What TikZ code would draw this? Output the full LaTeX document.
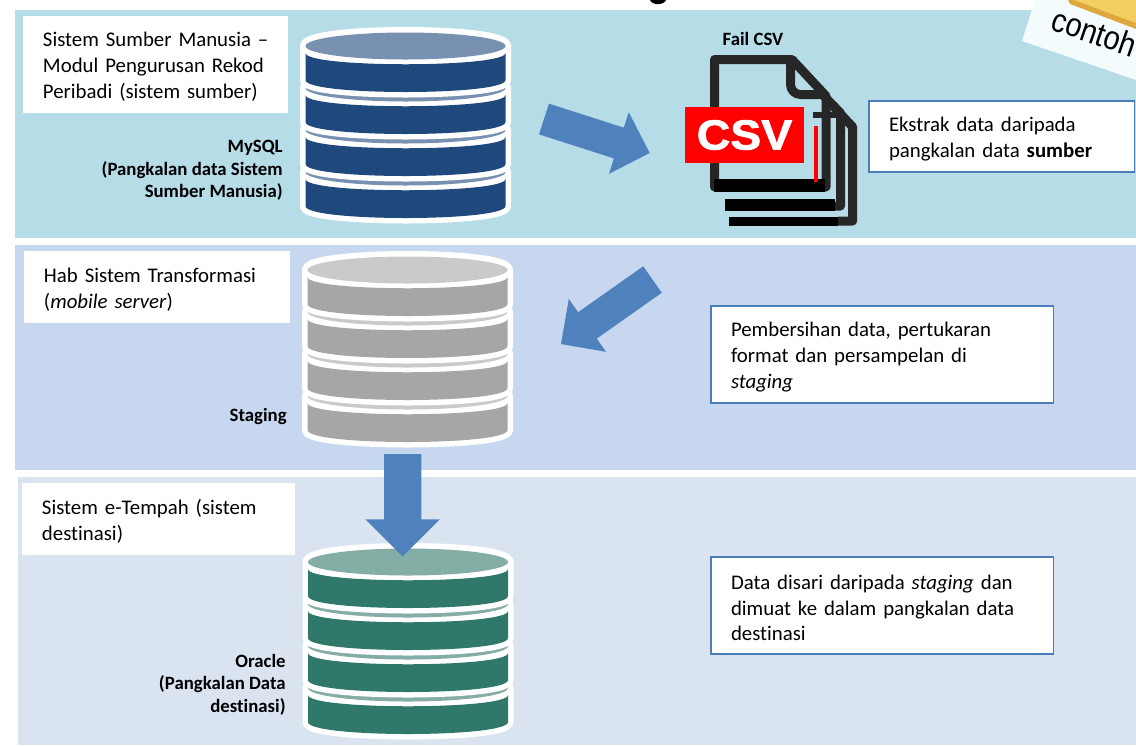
\documentclass[tikz,border=0pt]{standalone}
\usepackage{fontspec}
\setmainfont{Carlito}[Ligatures=NoCommon]
\newfontfamily\arialfont{Liberation Sans}
\newfontfamily\csvfont{Liberation Sans}[UprightFont=* Bold,FakeBold=1.6]
\usetikzlibrary{shapes.arrows}
\definecolor{panelA}{HTML}{B6DCE8}
\definecolor{panelB}{HTML}{C6D7EF}
\definecolor{panelC}{HTML}{DAE4F1}
\definecolor{noteBlue}{HTML}{4A7EBB}
\definecolor{arrowBlue}{HTML}{4F81BD}
\definecolor{navyDark}{HTML}{1F497D}
\definecolor{navyLight}{HTML}{7891B1}
\definecolor{greyDark}{HTML}{A6A6A6}
\definecolor{greyLight}{HTML}{CACACA}
\definecolor{tealDark}{HTML}{2F786A}
\definecolor{tealLight}{HTML}{84ADA5}
\definecolor{iconGrey}{HTML}{262626}
\definecolor{csvRed}{HTML}{FF0000}
\definecolor{stickyWhite}{HTML}{F3FBFC}
\definecolor{goldLight}{HTML}{F3CE60}
\definecolor{goldDark}{HTML}{DDA83E}
\begin{document}
\begin{tikzpicture}
[x=0.02cm,y=-0.02cm,%
  labelDecorate/.style={fill=white,anchor=north west,outer sep=0pt,inner xsep=0.4cm,inner ysep=0pt,align=left,font=\fontsize{11.85pt}{14.7pt}\selectfont,execute at end node={\endgraf\vspace{-0.1cm}}},%
  noteDecorate/.style={labelDecorate,draw=noteBlue,line width=0.6pt},%
  captionDecorate/.style={inner sep=0pt,font=\fontsize{10.7pt}{12.8pt}\selectfont\bfseries},%
  arrowDecorate/.style={single arrow,fill=arrowBlue,anchor=tail,inner sep=0pt,outer sep=0pt,single arrow tip angle=90,single arrow head indent=0pt},%
  iconLine/.style={draw=iconGrey,line width=0.18cm,line join=round,line cap=butt},%
  pics/dbDrum/.style 2 args={code={
    \foreach \k in {3,2,1,0}
    {
      \begin{scope}[shift={(0,{42*\k})}]
        \draw[white,fill=white,line width=0.22cm,line join=round] (-100,0) -- (-100,34)
          .. controls (-100,50) and (100,50) .. (100,34) -- (100,0)
          .. controls (100,-18) and (-100,-18) .. (-100,0) -- cycle;
        \fill[#1] (-100,7) .. controls (-100,22) and (100,22) .. (100,7) -- (100,34)
          .. controls (100,50) and (-100,50) .. (-100,34) -- cycle;
        \fill[#2] (0,0) ellipse (100 and 13.5);
      \end{scope}
    }
  }}]
\useasboundingbox (0,0) rectangle (1136,745);
%% panels
\fill[panelA] (15,10) rectangle (1136,238);
\fill[panelB] (15,245) rectangle (1136,470);
\fill[panelC] (18,477) rectangle (1136,745);
%% cut off title and sticky note
\fill[black] (650,0) .. controls (652,5.5) and (664,5.5) .. (666,0) -- cycle;
\fill[stickyWhite] (1022,41) -- (1035,0) -- (1136,0) -- (1136,80) -- cycle;
\fill[goldDark] (1068,0) -- (1070,4) -- (1136,29) -- (1136,0) -- cycle;
\fill[goldLight] (1074,0) -- (1136,23) -- (1136,0) -- cycle;
\node (contoh) at (1049,29) [anchor=base west,rotate=-19,xscale=0.87,inner sep=0pt,font=\fontsize{19pt}{20pt}\selectfont\arialfont] {contoh};
%% databases
\foreach \dbname/\x/\y/\dark/\light in {
  mysql/405.5/46/navyDark/navyLight, staging/407.5/270/greyDark/greyLight,
  oracle/408/562/tealDark/tealLight}
{
  \pic (\dbname) at (\x,\y) {dbDrum={\dark}{\light}};
}
%% labels on the left
\node (sourceLabel) at (23,16) [labelDecorate,text width=4.5cm,minimum height=1.94cm]
  {\mbox{Sistem Sumber Manusia --}\\Modul Pengurusan Rekod\\Peribadi (sistem sumber)};
\node (hubLabel) at (24,251) [labelDecorate,text width=4.52cm,minimum height=1.44cm]
  {Hab Sistem Transformasi\\(\textit{mobile server})};
\node (destLabel) at (22,483) [labelDecorate,text width=4.66cm,minimum height=1.44cm]
  {Sistem e-Tempah (sistem\\destinasi)};
%% captions
\node (mysqlCaption) at (283,170.5) [captionDecorate,anchor=east,align=right]
  {MySQL\\(Pangkalan data Sistem\\Sumber Manusia)};
\node (stagingCaption) at (287,416) [captionDecorate,anchor=east] {Staging};
\node (oracleCaption) at (286,684.5) [captionDecorate,anchor=east,align=right]
  {Oracle\\(Pangkalan Data\\destinasi)};
\node (csvCaption) at (753,39) [captionDecorate] {Fail CSV};
%% csv pages
\draw[iconLine] (834,107) -- (852.7,127) -- (852.7,221) -- (838,221);
\draw[iconLine] (822,94) -- (840.5,113) -- (840.5,206) -- (830,206);
\fill[iconGrey] (813,112) rectangle (836,118);
\draw[iconLine] (826,187) -- (826,96) -- (792,59.5) -- (714.5,59.5) -- (714.5,187) -- cycle;
\draw[iconLine,rounded corners=0.2cm] (790.5,60) -- (790.5,94.5) -- (826,94.5);
\fill[black] (714,179) rectangle (825,192);
\fill[black] (725,199) rectangle (835,211);
\fill[black] (729,217) rectangle (838,226);
\fill[csvRed] (813.5,126) rectangle (817.5,182);
\node (csvBadge) at (744.5,135) [fill=csvRed,minimum width=2.38cm,minimum height=1.12cm,inner sep=0pt] {};
\node (csvText) at (744.5,135) [text=white,xscale=1.1,inner sep=0pt,font=\fontsize{24pt}{24pt}\selectfont\csvfont] {CSV};
%% notes on the right
\node (extractNote) at (869,101) [noteDecorate,text width=4.52cm,minimum height=1.42cm]
  {Ekstrak data daripada\\pangkalan data \textbf{sumber}};
\node (cleanNote) at (711,306) [noteDecorate,text width=6.06cm,minimum height=1.94cm]
  {Pembersihan data, pertukaran\\format dan persampelan di\\\textit{staging}};
\node (loadNote) at (711,557) [noteDecorate,text width=6.06cm,minimum height=1.94cm]
  {Data disari daripada \textit{staging} dan\\dimuat ke dalam pangkalan data\\destinasi};
%% block arrows
\node (extractArrow) at (544,119) [arrowDecorate,rotate=-17.8,text height=0.632cm,text depth=0pt,minimum height=2.22cm,single arrow head extend=0.324cm] {};
\node (cleanArrow) at (652.5,279.5) [arrowDecorate,rotate=215.2,text height=0.632cm,text depth=0pt,minimum height=2.24cm,single arrow head extend=0.324cm] {};
\node (loadArrow) at (402.7,454) [arrowDecorate,rotate=-90,text height=0.734cm,text depth=0pt,minimum height=2.05cm,single arrow head extend=0.366cm] {};
\end{tikzpicture}
\end{document}
